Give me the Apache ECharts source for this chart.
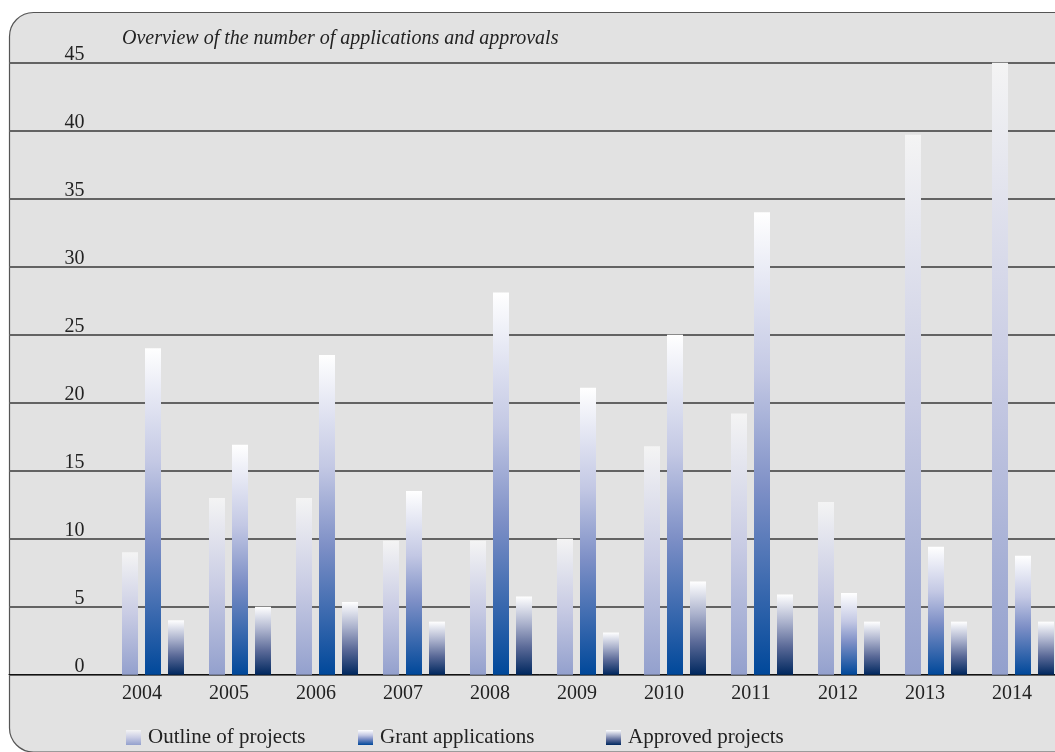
<!DOCTYPE html>
<html>
<head>
<meta charset="utf-8">
<script src="https://cdn.jsdelivr.net/npm/echarts@6/dist/echarts.min.js"></script>
<style>
  html, body { margin: 0; padding: 0; background: #fff; overflow: hidden; }
  #chart { width: 1070px; height: 752px; }
</style>
</head>
<body>
<div id="chart"></div>
<script>
const years = ['2004', '2005', '2006', '2007', '2008', '2009', '2010', '2011', '2012', '2013', '2014']
const outlineProjects = [9.0, 13.0, 13.0, 9.85, 9.85, 10.0, 16.8, 19.2, 12.7, 39.7, 45.0]
const grantApplications = [24.0, 16.9, 23.5, 13.5, 28.1, 21.1, 25.0, 34.0, 6.0, 9.4, 8.75]
const approvedProjects = [4.0, 5.0, 5.35, 3.9, 5.75, 3.1, 6.85, 5.9, 3.9, 3.9, 3.9]
const yTicks = { min: 0, max: 45, interval: 5 }

const serif = '"Liberation Serif", "DejaVu Serif", serif'
const textColor = '#222'

const grad = (stops) => new echarts.graphic.LinearGradient(0, 0, 0, 1,
  stops.map(([offset, color]) => ({ offset, color })))

const outlineColor = grad([[0, '#f4f4f4'], [0.5, '#c9cce4'], [1, '#93a0cd']])
const grantColor = grad([[0, '#ffffff'], [0.35, '#c3c8e4'], [0.6, '#7d8fc6'], [1, '#00489a']])
const approvedColor = grad([[0, '#ffffff'], [0.35, '#aab1cc'], [0.65, '#5b6a98'], [1, '#00285f']])

// page is wider than the 1055px window; the overflow is just cut off
const chart = echarts.init(document.getElementById('chart'))

const legendItem = (name, left) => ({
  data: [{ name, icon: 'rect' }],
  left,
  top: 722,
  itemWidth: 15,
  itemHeight: 15,
  itemGap: 0,
  selectedMode: false,
  textStyle: { fontFamily: serif, fontSize: 21, color: textColor, padding: [0, 0, 0, 2] }
})

const option = {
  animation: false,
  backgroundColor: '#fff',
  graphic: [
    {
      type: 'rect',
      z: -10,
      shape: { x: 9.5, y: 12.5, width: 1120, height: 739.5, r: 24 },
      style: { fill: '#e2e2e2', stroke: '#555', lineWidth: 1.2 }
    }
  ],
  title: {
    text: 'Overview of the number of applications and approvals',
    left: 117,
    top: 24,
    textStyle: { fontFamily: serif, fontStyle: 'italic', fontWeight: 'normal', fontSize: 20, color: textColor }
  },
  legend: [
    legendItem('Outline of projects', 121),
    legendItem('Grant applications', 353),
    legendItem('Approved projects', 601)
  ],
  grid: [
    // full-width gridlines
    { left: 9, width: 1061, top: 62.7, height: 612 },
    // bars
    { left: 109.5, width: 957, top: 62.7, height: 612 }
  ],
  xAxis: [
    {
      gridIndex: 0, type: 'value', min: 0, max: 1,
      axisLine: { show: true, lineStyle: { color: '#111', width: 1 } },
      axisTick: { show: false }, axisLabel: { show: false }, splitLine: { show: false }
    },
    {
      gridIndex: 1, type: 'category', data: years,
      axisLine: { show: false }, axisTick: { show: false },
      axisLabel: {
        margin: 9,
        padding: [0, 22, 0, 0],
        fontFamily: serif, fontSize: 20, color: textColor
      }
    }
  ],
  yAxis: [
    {
      gridIndex: 0, type: 'value', ...yTicks,
      axisLine: { show: false }, axisTick: { show: false }, axisLabel: { show: false },
      splitLine: { lineStyle: { color: '#636363', width: 2 } }
    },
    {
      gridIndex: 1, type: 'value', ...yTicks,
      axisLine: { show: false }, axisTick: { show: false },
      splitLine: { show: false },
      axisLabel: {
        margin: 25,
        verticalAlign: 'bottom',
        lineHeight: 16,
        fontFamily: serif, fontSize: 20, color: textColor
      }
    }
  ],
  series: [
    {
      name: 'Outline of projects', type: 'bar', xAxisIndex: 1, yAxisIndex: 1,
      barWidth: 16, barGap: '43.75%',
      itemStyle: { color: outlineColor },
      data: outlineProjects
    },
    {
      name: 'Grant applications', type: 'bar', xAxisIndex: 1, yAxisIndex: 1,
      barWidth: 16, barGap: '43.75%',
      itemStyle: { color: grantColor },
      data: grantApplications
    },
    {
      name: 'Approved projects', type: 'bar', xAxisIndex: 1, yAxisIndex: 1,
      barWidth: 16, barGap: '43.75%',
      itemStyle: { color: approvedColor },
      data: approvedProjects
    }
  ]
}

chart.setOption(option)
</script>
</body>
</html>
